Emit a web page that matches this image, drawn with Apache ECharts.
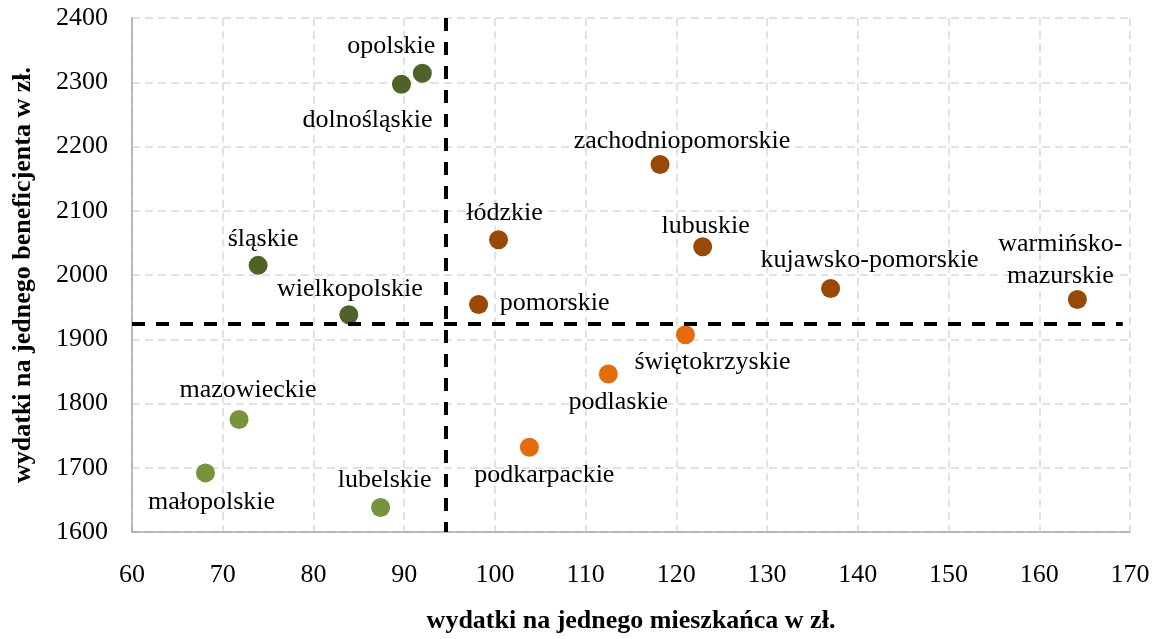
<!DOCTYPE html>
<html>
<head>
<meta charset="utf-8">
<script src="https://cdn.jsdelivr.net/npm/echarts@6/dist/echarts.min.js"></script>
<style>
  html, body { margin: 0; padding: 0; background: #fff; }
  #chart { width: 1164px; height: 639px; }
</style>
</head>
<body>
<div id="chart"></div>
<script>
// Voivodeships: spending per inhabitant (x) vs. spending per beneficiary (y), PLN
const regions = [
  'opolskie', 'dolnośląskie', 'śląskie', 'wielkopolskie',
  'mazowieckie', 'małopolskie', 'lubelskie',
  'zachodniopomorskie', 'łódzkie', 'lubuskie', 'pomorskie', 'kujawsko-pomorskie', 'warmińsko-mazurskie',
  'świętokrzyskie', 'podlaskie', 'podkarpackie'
];
const perInhabitant = [
  92.0, 89.7, 73.9, 83.9,
  71.8, 68.1, 87.4,
  118.2, 100.4, 122.9, 98.2, 137.0, 164.2,
  121.0, 112.5, 103.8
];
const perBeneficiary = [
  2314, 2297, 2015, 1938,
  1775, 1692, 1638,
  2172, 2055, 2044, 1954, 1979, 1962,
  1907, 1846, 1732
];
// quadrant membership of each region (0..3)
const quadrant = [0, 0, 0, 0, 1, 1, 1, 2, 2, 2, 2, 2, 2, 3, 3, 3];

// average lines
const avgPerInhabitant = 94.6;
const avgPerBeneficiary = 1924;

// axis ticks
const xTicks = [60, 70, 80, 90, 100, 110, 120, 130, 140, 150, 160, 170];
const yTicks = [1600, 1700, 1800, 1900, 2000, 2100, 2200, 2300, 2400];

// --- styling ---
const quadrantColors = ['#4F6228', '#77933C', '#984807', '#E46C0A'];
const labelText = { 'warmińsko-mazurskie': 'warmińsko-\nmazurskie' };
// label offsets (px) relative to each marker
const labelOffsets = {
  'opolskie': [-31, -27], 'dolnośląskie': [-34, 36], 'śląskie': [5, -26], 'wielkopolskie': [1, -26],
  'mazowieckie': [9, -29], 'małopolskie': [6, 29], 'lubelskie': [4, -27],
  'zachodniopomorskie': [22, -23], 'łódzkie': [6, -26], 'lubuskie': [3, -21], 'pomorskie': [76, -1],
  'kujawsko-pomorskie': [39, -28], 'warmińsko-mazurskie': [-17, -39],
  'świętokrzyskie': [27, 27], 'podlaskie': [10, 28], 'podkarpackie': [15, 28]
};

const FONT = '"Liberation Serif", "Times New Roman", serif';

function seriesFor(q) {
  const data = [];
  regions.forEach((name, i) => {
    if (quadrant[i] !== q) return;
    data.push({
      name: name,
      value: [perInhabitant[i], perBeneficiary[i]],
      label: { offset: labelOffsets[name] }
    });
  });
  return {
    type: 'scatter',
    symbol: 'circle',
    symbolSize: 19,
    itemStyle: { color: quadrantColors[q], opacity: 1 },
    label: {
      show: true,
      position: 'inside',
      fontFamily: FONT,
      fontSize: 26,
      lineHeight: 32,
      color: '#000',
      align: 'center',
      formatter: p => labelText[p.name] || p.name
    },
    data: data,
    z: 3
  };
}

const series = [0, 1, 2, 3].map(seriesFor);
series.push({
  type: 'line',
  data: [],
  silent: true,
  markLine: {
    silent: true,
    symbol: 'none',
    label: { show: false },
    lineStyle: { color: '#000', width: 4, type: [13, 11] },
    data: [
      [{ coord: [avgPerInhabitant, yTicks[yTicks.length - 1]] }, { coord: [avgPerInhabitant, yTicks[0]] }],
      [{ coord: [xTicks[0], avgPerBeneficiary] }, { coord: [169.2, avgPerBeneficiary] }]
    ]
  },
  z: 2
});

const chart = echarts.init(document.getElementById('chart'), null, { renderer: 'canvas' });
chart.setOption({
  animation: false,
  backgroundColor: '#fff',
  grid: { left: 132, right: 34, top: 18, bottom: 107, containLabel: false },
  xAxis: {
    type: 'value',
    min: xTicks[0],
    max: xTicks[xTicks.length - 1],
    interval: 10,
    name: 'wydatki na jednego mieszkańca w zł.',
    nameLocation: 'middle',
    nameGap: 76,
    nameTextStyle: { fontFamily: FONT, fontSize: 26, fontWeight: 'bold', color: '#000' },
    axisLine: { show: true, lineStyle: { color: '#A6A6A6', width: 1.5 } },
    axisTick: { show: false },
    axisLabel: { fontFamily: FONT, fontSize: 26, color: '#000', margin: 30, formatter: v => String(v) },
    splitLine: { show: true, lineStyle: { color: '#D9D9D9', width: 1.5, type: [8, 5] } }
  },
  yAxis: {
    type: 'value',
    min: yTicks[0],
    max: yTicks[yTicks.length - 1],
    interval: 100,
    name: 'wydatki na jednego beneficjenta w zł.',
    nameLocation: 'middle',
    nameGap: 96,
    nameTextStyle: { fontFamily: FONT, fontSize: 26, fontWeight: 'bold', color: '#000' },
    axisLine: { show: true, lineStyle: { color: '#A6A6A6', width: 1.5 } },
    axisTick: { show: false },
    axisLabel: { fontFamily: FONT, fontSize: 26, color: '#000', margin: 24, formatter: v => String(v) },
    splitLine: { show: true, lineStyle: { color: '#D9D9D9', width: 1.5, type: [8, 5] } }
  },
  series: series
});
</script>
</body>
</html>
